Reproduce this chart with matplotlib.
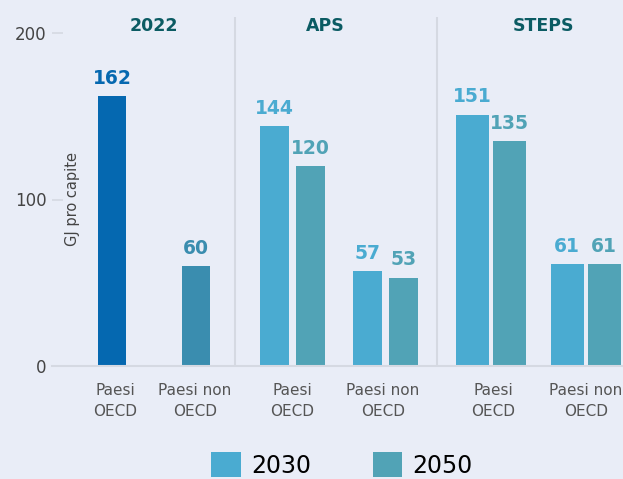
import matplotlib
matplotlib.use("Agg")
import matplotlib.pyplot as plt
from matplotlib.patches import Patch

# ---- data ----
groups = ["2022", "APS", "STEPS"]
categories = ["Paesi\nOECD", "Paesi non\nOECD"]
values_2022 = [162, 60]
aps_2030 = [144, 57]
aps_2050 = [120, 53]
steps_2030 = [151, 61]
steps_2050 = [135, 61]
yticks = [0, 100, 200]
series_names = ["2030", "2050"]
ylabel = "GJ pro capite"

# ---- style ----
BG = "#E9EDF7"
C_2022_OECD = "#0568B0"
C_2022_NON = "#3A8DAF"
C_2030 = "#4AABD1"
C_2050 = "#51A3B6"
C_TITLE = "#0B5B63"
C_GRID = "#D5D9E2"
C_TEXT = "#555555"
FONT = "DejaVu Sans"

plt.rcParams["font.family"] = [FONT]

W, H = 623, 479
fig = plt.figure(figsize=(W / 100, H / 100), dpi=100, facecolor=BG)
left_px, base_px = 52, 366
ax = fig.add_axes([left_px / W, (H - base_px) / H, (W - left_px) / W, base_px / H])
ax.set_facecolor(BG)
px_per_unit = (366 - 33) / 200.0
ax.set_ylim(0, base_px / px_per_unit)
ax.set_xlim(left_px, W)

# layout (x positions in px-like units)
centers = {"2022": [112, 196], "APS": [292.5, 385.5], "STEPS": [491, 585.5]}
widths = {"2022": 28, "APS": 29, "STEPS": 33}
half = {"APS": 18, "STEPS": 18.5}
title_x = [153.5, 325, 544]
label_x = [[115, 195], [292, 383], [493, 586]]
sep_x = [235, 437]

def vlabel(x, v, color):
    ax.annotate(str(v), (x, v), xytext=(0, 6), textcoords="offset points",
                ha="center", va="bottom", fontsize=13.5, fontweight="bold", color=color)

# 2022
for cx, v, col in zip(centers["2022"], values_2022, [C_2022_OECD, C_2022_NON]):
    ax.bar(cx, v, width=widths["2022"], color=col)
    vlabel(cx, v, col)

for g, s30, s50 in [("APS", aps_2030, aps_2050), ("STEPS", steps_2030, steps_2050)]:
    for cx, v30, v50 in zip(centers[g], s30, s50):
        ax.bar(cx - half[g], v30, width=widths[g], color=C_2030)
        ax.bar(cx + half[g], v50, width=widths[g], color=C_2050)
        vlabel(cx - half[g], v30, C_2030)
        vlabel(cx + half[g], v50, C_2050)

# separators
for sx in sep_x:
    ax.plot([sx, sx], [0, 209.5], color=C_GRID, lw=1.5, zorder=0, solid_capstyle="butt")

# group titles
for tx, g in zip(title_x, groups):
    ax.text(tx, 204, g, ha="center", va="center", fontsize=12.5, fontweight="bold", color=C_TITLE)

# category labels
xt, xl = [], []
for lx_pair in label_x:
    for lx, c in zip(lx_pair, categories):
        xt.append(lx)
        xl.append(c)
ax.set_xticks(xt)
ax.set_xticklabels(xl, fontsize=11, color=C_TEXT, linespacing=1.5)
ax.tick_params(axis="x", length=0, pad=12)

# y axis
ax.set_yticks(yticks)
ax.set_yticklabels([str(t) for t in yticks], fontsize=12, color="#444444")
ax.tick_params(axis="y", direction="in", length=8, width=1.2, color=C_GRID, pad=4)
ax.text(73, 100, ylabel, rotation=90, ha="center", va="center", fontsize=10.5, color="#444444")

for s in ["left", "top", "right"]:
    ax.spines[s].set_visible(False)
ax.spines["bottom"].set_color(C_GRID)
ax.spines["bottom"].set_linewidth(1.5)

# legend
handles = [Patch(facecolor=C_2030), Patch(facecolor=C_2050)]
fig.legend(handles, series_names, loc="center", bbox_to_anchor=(342 / W, (H - 465) / H),
           ncol=2, frameon=False, fontsize=17, handlelength=1.25, handleheight=1.25,
           columnspacing=2.6, handletextpad=0.45, borderpad=0.1)

fig.savefig("out.png", dpi=100, facecolor=BG)
